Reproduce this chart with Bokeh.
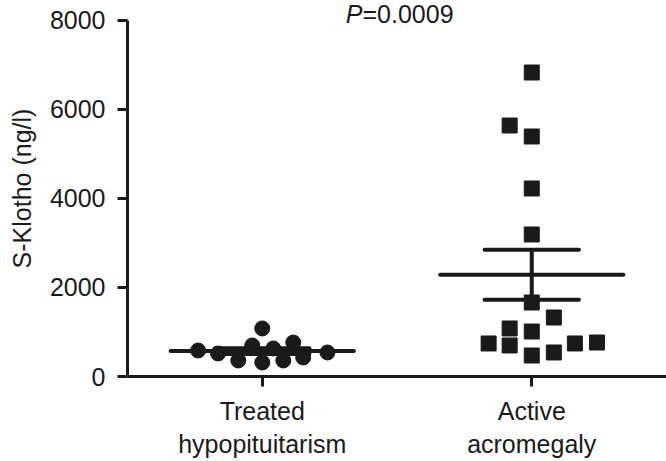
import numpy as np
from bokeh.plotting import figure
from bokeh.models import Range1d, FixedTicker, Label
from bokeh.embed import file_html
from bokeh.resources import INLINE

# ---- data ----
group_labels = ["Treated\nhypopituitarism", "Active\nacromegaly"]
group_pos = [0.5, 1.5]
hypo_values = [584, 517, 360, 697, 1079, 315, 630, 360, 764, 427, 540]
hypo_jitter = [-0.238, -0.164, -0.089, -0.037, 0.0, 0.0, 0.041, 0.078, 0.115, 0.152, 0.242]
acro_values = [6831, 5640, 5393, 4225, 3191, 1663, 1326, 1079, 1011, 742, 697, 472, 540, 742, 764]
acro_jitter = [0.0, -0.082, 0.0, 0.0, 0.0, 0.0, 0.082, -0.082, 0.0, -0.16, -0.082, 0.0, 0.082, 0.16, 0.242]
y_ticks = [0, 2000, 4000, 6000, 8000]
p_label = "P"
p_value = "=0.0009"
y_title = "S-Klotho (ng/l)"

FONT = "Liberation Sans"
INK = "#1a1a1a"
FS = "25px"
Y_TOP = 8449

p = figure(width=666, height=461, x_range=Range1d(0, 2.0), y_range=Range1d(0, Y_TOP),
           output_backend="svg", toolbar_location=None,
           min_border_left=127, min_border_right=0, min_border_top=0, min_border_bottom=85)
p.outline_line_color = None
p.xgrid.visible = False
p.ygrid.visible = False
p.background_fill_color = "white"
p.border_fill_color = "white"

# mean / SEM bars
for pos, vals in ((group_pos[0], hypo_values), (group_pos[1], acro_values)):
    arr = np.array(vals, dtype=float)
    m = arr.mean()
    s = arr.std(ddof=1) / np.sqrt(len(arr))
    p.segment(x0=[pos - 0.34], y0=[m], x1=[pos + 0.34], y1=[m], line_color=INK, line_width=4, line_cap="round")
    p.segment(x0=[pos - 0.175, pos - 0.175], y0=[m + s, m - s], x1=[pos + 0.175, pos + 0.175], y1=[m + s, m - s],
              line_color=INK, line_width=4, line_cap="round")
    p.segment(x0=[pos], y0=[m - s], x1=[pos], y1=[m + s], line_color=INK, line_width=4)

# points
p.scatter(x=[group_pos[0] + j for j in hypo_jitter], y=hypo_values, marker="circle", size=15,
          fill_color=INK, line_color=INK)
p.scatter(x=[group_pos[1] + j for j in acro_jitter], y=acro_values, marker="square", size=15,
          fill_color=INK, line_color=INK)

# axes
yax = p.yaxis[0]
yax.ticker = FixedTicker(ticks=y_ticks)
yax.bounds = (0, 8000)
yax.axis_label = y_title
yax.axis_label_text_font = FONT
yax.axis_label_text_font_size = "25px"
yax.axis_label_text_font_style = "normal"
yax.axis_label_text_color = INK
yax.axis_label_standoff = 11
yax.major_label_text_font = FONT
yax.major_label_text_font_size = FS
yax.major_label_text_color = INK
yax.major_label_standoff = 12
yax.axis_line_width = 3
yax.axis_line_color = INK
yax.major_tick_line_width = 3
yax.major_tick_line_color = INK
yax.major_tick_out = 10
yax.major_tick_in = 0
yax.minor_tick_line_color = None

xax = p.xaxis[0]
xax.ticker = FixedTicker(ticks=group_pos)
xax.major_label_overrides = {pos: lab for pos, lab in zip(group_pos, group_labels)}
xax.major_label_text_font = FONT
xax.major_label_text_font_size = FS
xax.major_label_text_color = INK
xax.major_label_standoff = 10
xax.axis_line_width = 3
xax.axis_line_color = INK
xax.major_tick_line_width = 3
xax.major_tick_line_color = INK
xax.major_tick_out = 10
xax.major_tick_in = 0
xax.minor_tick_line_color = None

# P value annotation
p.add_layout(Label(x=0.872, y=8135, text=p_label, text_font=FONT, text_font_size=FS,
                   text_font_style="italic", text_color=INK, text_align="right", text_baseline="alphabetic"))
p.add_layout(Label(x=0.872, y=8135, text=p_value, text_font=FONT, text_font_size=FS,
                   text_color=INK, text_align="left", text_baseline="alphabetic"))

open("out.html", "w").write(file_html(p, INLINE))
